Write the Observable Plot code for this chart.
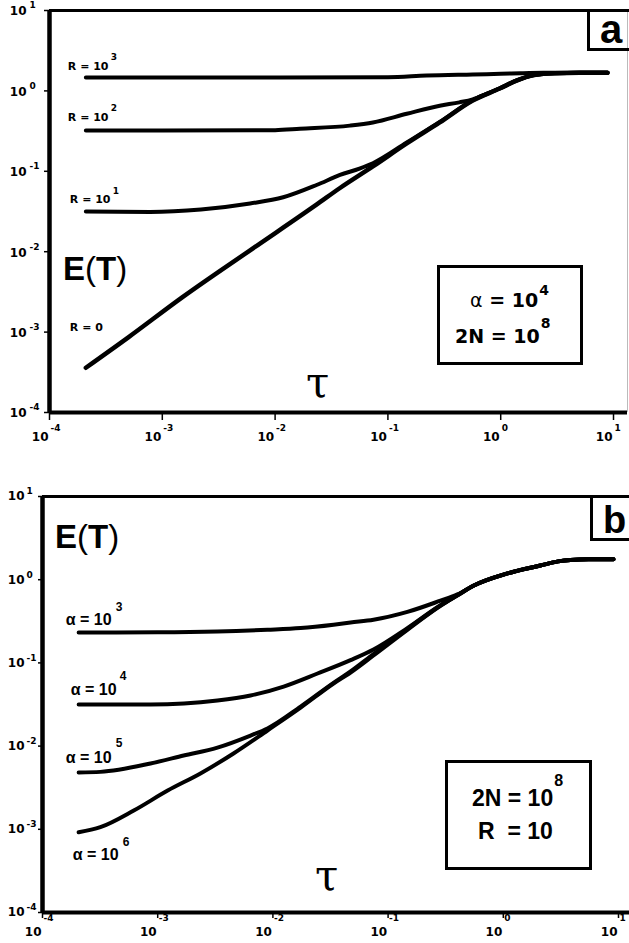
<!DOCTYPE html>
<html>
<head>
<meta charset="utf-8">
<script src="https://cdn.jsdelivr.net/npm/d3@7"></script>
<script src="https://cdn.jsdelivr.net/npm/@observablehq/plot@0.6"></script>
<style>
  html, body { margin: 0; padding: 0; background: #fff; }
  #wrap { position: relative; width: 629px; height: 943px; overflow: hidden; background: #fff; }
  #wrap svg { position: absolute; left: 0; }
  .box { position: absolute; border: 3px solid #000; box-sizing: border-box; }
  .t { position: absolute; white-space: pre; line-height: 1; color: #000; }
  .sup { position: relative; }
</style>
</head>
<body>
<div id="wrap"></div>
<script>
// ---------------- data ----------------
const tickValues = [1e-4, 1e-3, 1e-2, 1e-1, 1, 10];
const tickExps = ["-4", "-3", "-2", "-1", "0", "1"];

// Panel a : alpha = 10^4, 2N = 10^8, curves for R
const tauA_R1000 = [2.1e-4, 1e-3, 0.01, 0.1, 0.22, 0.565, 1.0, 1.5, 2.4, 3.0, 8.85];
const eA_R1000   = [1.47, 1.47, 1.47, 1.48, 1.55, 1.60, 1.63, 1.66, 1.68, 1.68, 1.68];

const tauA_R100 = [2.1e-4, 1e-3, 0.01, 0.0166, 0.046, 0.0736, 0.147, 0.288, 0.43, 0.565, 0.75, 0.98, 1.4, 1.92, 2.4, 3.0, 5.0, 8.85];
const eA_R100   = [0.321, 0.321, 0.325, 0.338, 0.37, 0.405, 0.52, 0.655, 0.72, 0.785, 0.92, 1.08, 1.36, 1.565, 1.63, 1.66, 1.68, 1.68];

const tauA_R10 = [2.1e-4, 7.8e-4, 2.2e-3, 6e-3, 0.0118, 0.0236, 0.0376, 0.056, 0.0736, 0.147, 0.288, 0.565, 0.98, 1.4, 1.92, 2.4, 3.0, 5.0, 8.85];
const eA_R10   = [0.0316, 0.0312, 0.0335, 0.0398, 0.0475, 0.068, 0.09, 0.108, 0.126, 0.228, 0.41, 0.765, 1.07, 1.35, 1.56, 1.63, 1.66, 1.68, 1.68];

const tauA_R0 = [2.1e-4, 5e-4, 1.5e-3, 6e-3, 0.0236, 0.0376, 0.0736, 0.147, 0.288, 0.565, 0.98, 1.4, 1.92, 2.4, 3.0, 5.0, 8.85];
const eA_R0   = [3.6e-4, 8.6e-4, 2.7e-3, 0.0104, 0.039, 0.062, 0.115, 0.222, 0.405, 0.76, 1.07, 1.35, 1.56, 1.63, 1.66, 1.68, 1.68];

const labelBaseA = ["R = 10", "R = 10", "R = 10", "R = 0"];
const labelExpA  = ["3", "2", "1", ""];

// Panel b : 2N = 10^8, R = 10, curves for alpha
const tauB_A3 = [2.06e-4, 1e-3, 3.3e-3, 8.97e-3, 0.0174, 0.0336, 0.0472, 0.0747, 0.147, 0.285, 0.40, 0.55, 1.09, 2.1, 3.0, 3.83, 5.5, 9.05];
const eB_A3   = [0.232, 0.233, 0.238, 0.25, 0.262, 0.288, 0.306, 0.33, 0.41, 0.56, 0.665, 0.845, 1.19, 1.48, 1.66, 1.73, 1.76, 1.76];

const tauB_A4 = [2.06e-4, 8.66e-4, 3.3e-3, 6.4e-3, 0.0124, 0.0244, 0.0472, 0.0747, 0.147, 0.285, 0.40, 0.55, 1.09, 2.1, 3.0, 3.83, 5.5, 9.05];
const eB_A4   = [0.0316, 0.0316, 0.0353, 0.0406, 0.052, 0.0746, 0.108, 0.145, 0.262, 0.495, 0.65, 0.845, 1.19, 1.48, 1.66, 1.73, 1.76, 1.76];

const tauB_A5 = [2.06e-4, 3.18e-4, 8.66e-4, 1.68e-3, 3.3e-3, 6.4e-3, 8.97e-3, 0.0174, 0.0336, 0.0472, 0.0747, 0.147, 0.285, 0.40, 0.55, 1.09, 2.1, 3.0, 3.83, 5.5, 9.05];
const eB_A5   = [4.82e-3, 4.9e-3, 6.18e-3, 7.7e-3, 9.6e-3, 0.0134, 0.0163, 0.0298, 0.0575, 0.079, 0.128, 0.255, 0.49, 0.65, 0.845, 1.19, 1.48, 1.66, 1.73, 1.76, 1.76];

const tauB_A6 = [2.06e-4, 3.18e-4, 6.2e-4, 1.22e-3, 2.35e-3, 4.55e-3, 8.97e-3, 0.0174, 0.0336, 0.0472, 0.0747, 0.147, 0.285, 0.40, 0.55, 1.09, 2.1, 3.0, 3.83, 5.5, 9.05];
const eB_A6   = [9.2e-4, 1.06e-3, 1.68e-3, 2.92e-3, 4.69e-3, 8.15e-3, 0.0154, 0.029, 0.0565, 0.0767, 0.123, 0.25, 0.485, 0.648, 0.845, 1.19, 1.48, 1.66, 1.73, 1.76, 1.76];

const labelBaseB = ["α = 10", "α = 10", "α = 10", "α = 10"];
const labelExpB  = ["3", "4", "5", "6"];

// ---------------- build ----------------
const rows = (name, tau, e) => tau.map((t, i) => ({series: name, tau: t, e: e[i]}));

const seriesA = [
  rows("R3", tauA_R1000, eA_R1000),
  rows("R2", tauA_R100, eA_R100),
  rows("R1", tauA_R10, eA_R10),
  rows("R0", tauA_R0, eA_R0)
];
const seriesB = [
  rows("a3", tauB_A3, eB_A3),
  rows("a4", tauB_A4, eB_A4),
  rows("a5", tauB_A5, eB_A5),
  rows("a6", tauB_A6, eB_A6)
];

const SANS = "DejaVu Sans";
const LIB = "Liberation Sans";

function tickLabelMarks(cfg) {
  const common = {fontWeight: "bold", fontFamily: SANS, fill: "#000", lineAnchor: "middle"};
  return [
    Plot.text(tickValues, {x: d => d, frameAnchor: "bottom", text: () => "10", textAnchor: "end",
      dx: -1, dy: cfg.xBaseDy, fontSize: 12, ...common}),
    Plot.text(tickValues, {x: d => d, frameAnchor: "bottom", text: (d, i) => tickExps[i], textAnchor: "start",
      dx: 1, dy: cfg.xExpDy, fontSize: 9, ...common}),
    Plot.text(tickValues, {y: d => d, frameAnchor: "left", text: () => "10", textAnchor: "end",
      dx: cfg.yBaseDx, dy: cfg.yBaseDy, fontSize: 12, ...common}),
    Plot.text(tickValues, {y: d => d, frameAnchor: "left", text: (d, i) => tickExps[i], textAnchor: "start",
      dx: cfg.yExpDx, dy: cfg.yExpDy, fontSize: 9, ...common})
  ];
}

function curveLabelMarks(series, bases, exps, offs, font) {
  const marks = [];
  series.forEach((s, i) => {
    const first = [s[0]];
    const o = offs[i];
    marks.push(Plot.text(first, {x: "tau", y: "e", text: () => bases[i], textAnchor: "start", lineAnchor: "middle",
      dx: o[0], dy: o[1], fontSize: font.base, fontWeight: "bold", fontFamily: font.family, fill: "#000"}));
    if (exps[i]) marks.push(Plot.text(first, {x: "tau", y: "e", text: () => exps[i], textAnchor: "start", lineAnchor: "middle",
      dx: o[2], dy: o[3], fontSize: font.exp, fontWeight: "bold", fontFamily: font.family, fill: "#000"}));
  });
  return marks;
}

// Panel a
const xMaxA = 10 ** 1.124;
const plotA = Plot.plot({
  width: 629, height: 470,
  marginLeft: 49, marginRight: 2, marginTop: 10, marginBottom: 58,
  x: {type: "log", domain: [1e-4, xMaxA]},
  y: {type: "log", domain: [1e-4, 10]},
  style: {background: "transparent", overflow: "visible", color: "#000"},
  marks: [
    Plot.ruleX([xMaxA], {stroke: "#bbb", strokeWidth: 1}),
    Plot.axisX(tickValues, {anchor: "bottom", tickSize: 8, strokeWidth: 1.5, fill: "none"}),
    Plot.axisY(tickValues, {anchor: "left", tickSize: 5, strokeWidth: 1.5, fill: "none"}),
    Plot.ruleY([10], {stroke: "#000", strokeWidth: 3}),
    Plot.ruleY([1e-4], {stroke: "#000", strokeWidth: 4}),
    Plot.ruleX([1e-4], {stroke: "#000", strokeWidth: 4.5}),
    ...tickLabelMarks({xBaseDy: 25, xExpDy: 16, yBaseDx: -23, yBaseDy: 1, yExpDx: -20, yExpDy: -5}),
    ...seriesA.map((s, i) => Plot.line(s, {x: "tau", y: "e", stroke: "#000", strokeWidth: i === 3 ? 4.5 : 4,
      curve: "monotone-x", strokeLinecap: "round", strokeLinejoin: "round"})),
    ...curveLabelMarks(seriesA, labelBaseA, labelExpA,
      [[-18, -11, 25, -20], [-18, -13.5, 25, -22.5], [-16, -12.5, 27, -20.5], [-16, -40, 0, 0]],
      {base: 11, exp: 9, family: SANS})
  ]
});

// Panel b
const xMaxB = 10 ** 1.0955;
const plotB = Plot.plot({
  width: 629, height: 473,
  marginLeft: 42, marginRight: 0, marginTop: 26, marginBottom: 31,
  x: {type: "log", domain: [1e-4, xMaxB]},
  y: {type: "log", domain: [1e-4, 10]},
  style: {background: "transparent", overflow: "visible", color: "#000"},
  marks: [
    Plot.axisX(tickValues, {anchor: "bottom", tickSize: 6, strokeWidth: 1.5, fill: "none"}),
    Plot.axisY(tickValues, {anchor: "left", tickSize: 4, strokeWidth: 1.5, fill: "none"}),
    Plot.ruleY([10], {stroke: "#000", strokeWidth: 3}),
    Plot.ruleY([1e-4], {stroke: "#000", strokeWidth: 4}),
    Plot.ruleX([1e-4], {stroke: "#000", strokeWidth: 4.5}),
    ...tickLabelMarks({xBaseDy: 20, xExpDy: 6, yBaseDx: -18, yBaseDy: 0, yExpDx: -16, yExpDy: -5}),
    ...seriesB.map(s => Plot.line(s, {x: "tau", y: "e", stroke: "#000", strokeWidth: 4,
      curve: "monotone-x", strokeLinecap: "round", strokeLinejoin: "round"})),
    ...curveLabelMarks(seriesB, labelBaseB, labelExpB,
      [[-13, -13, 37, -25], [-8, -15, 41, -28], [-13, -15, 37, -29], [-6, 22.5, 44, 10]],
      {base: 16, exp: 12, family: LIB})
  ]
});

const wrap = document.getElementById("wrap");
plotA.style.top = "0px";
plotB.style.top = "470px";
wrap.appendChild(plotA);
wrap.appendChild(plotB);

// ---------------- annotations ----------------
const ann = `
  <div class="t" style="left:63px;top:252px;font-family:'${LIB}';font-size:33px;"><b>E</b>(<b>T</b>)</div>
  <div class="t" style="left:306px;top:362px;font-family:'DejaVu Serif';font-size:42px;">τ</div>
  <div class="box" style="left:437px;top:265px;width:146px;height:100px;"></div>
  <div class="t" style="left:470px;top:291px;font-family:'${SANS}';font-size:19px;font-weight:bold;"><span style="font-weight:normal">α</span> = 10<span class="sup" style="font-size:14px;top:-12px;margin-left:1px">4</span></div>
  <div class="t" style="left:455px;top:327px;font-family:'${SANS}';font-size:19px;font-weight:bold;">2N = 10<span class="sup" style="font-size:14px;top:-15px;margin-left:1px">8</span></div>
  <div class="box" style="left:587px;top:9px;width:60px;height:42px;"></div>
  <div class="t" style="left:600px;top:9px;font-family:'${LIB}';font-size:40px;font-weight:bold;">a</div>

  <div class="t" style="left:55px;top:520px;font-family:'${LIB}';font-size:33px;"><b>E</b>(<b>T</b>)</div>
  <div class="t" style="left:315px;top:855px;font-family:'DejaVu Serif';font-size:42px;">τ</div>
  <div class="box" style="left:445px;top:760px;width:147px;height:110px;"></div>
  <div class="t" style="left:472px;top:787px;font-family:'${LIB}';font-size:23px;font-weight:bold;">2N = 10<span class="sup" style="font-size:16px;top:-20px;margin-left:1px">8</span></div>
  <div class="t" style="left:478px;top:820px;font-family:'${LIB}';font-size:23px;font-weight:bold;">R  = 10</div>
  <div class="box" style="left:590px;top:495px;width:60px;height:46px;"></div>
  <div class="t" style="left:603px;top:501px;font-family:'${LIB}';font-size:38px;font-weight:bold;">b</div>
`;
wrap.insertAdjacentHTML("beforeend", ann);
</script>
</body>
</html>
